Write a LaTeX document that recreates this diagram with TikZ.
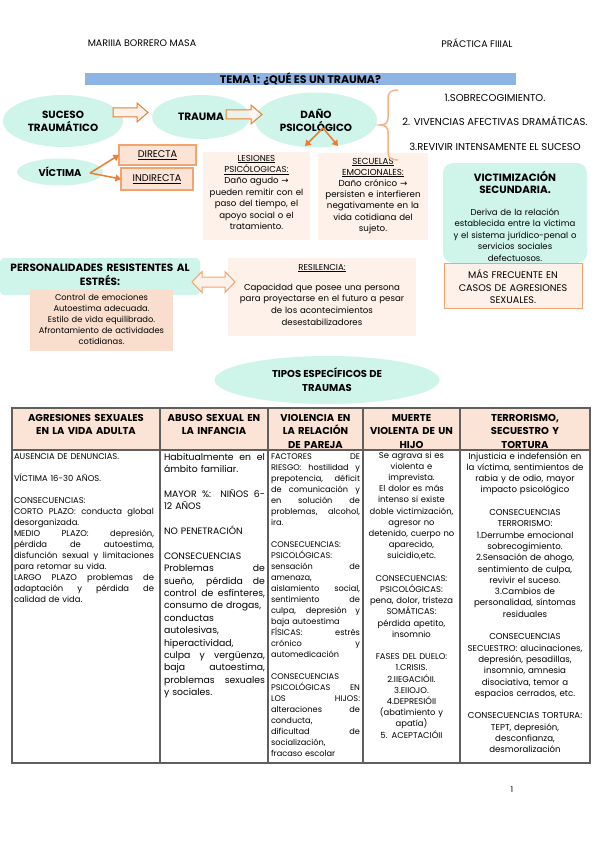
\documentclass[tikz,border=0pt]{standalone}
\usepackage{fontspec}
\setmainfont{Poppins}
\newfontfamily\symf{DejaVu Sans}
\usetikzlibrary{shapes.geometric,arrows.meta}
\definecolor{mint}{RGB}{207,245,234}
\definecolor{peach}{RGB}{251,228,214}
\definecolor{peachb}{RGB}{249,222,205}
\definecolor{lpeach}{RGB}{253,241,234}
\definecolor{orb}{RGB}{243,164,110}
\definecolor{ora}{RGB}{237,125,49}
\definecolor{bracecol}{RGB}{246,180,135}
\definecolor{barcol}{RGB}{142,180,227}
\definecolor{tline}{RGB}{95,95,95}
\newcommand\fs[2]{\fontsize{#1}{#2}\selectfont}
\newcommand\J[1]{{\spaceskip=0pt\xspaceskip=0pt\relax\makebox[\hsize][s]{#1}}}
\newcommand\rarr{{\symf →}}
\begin{document}
\begin{tikzpicture}[x=1pt,y=-1pt,
  every node/.style={inner sep=0pt,outer sep=0pt},
  ell/.style={ellipse,fill=mint,align=center,font=\bfseries\fs{10.4}{13}},
  obox/.style={rectangle,fill=peach,draw=orb,line width=1.2pt},
  lbox/.style={rectangle,fill=lpeach},
  txt/.style={anchor=base,align=center,font=\fs{8.5}{11}},
  hdr/.style={anchor=base,align=center,font=\bfseries\fs{10}{13.5}},
  cell/.style={anchor=base west,align=left,font=\fs{8.4}{11}},
  ccell/.style={anchor=base,align=center,font=\fs{8.4}{11}},
  conn/.style={draw=ora,line width=1.5pt,-{Triangle[length=5.5pt,width=7pt]}},
  barrow/.style={draw=ora,line width=1pt,fill=lpeach},
  bracestyle/.style={draw=bracecol,line width=1.5pt},
  tl/.style={draw=tline,line width=1.1pt}]
\useasboundingbox (0,0) rectangle (599,848);
\fill[white] (0,0) rectangle (599,848);

% header
\node[font=\fs{9.5}{10}] (autor) at (142,43) {MARIIIA BORRERO MASA};
\node[font=\fs{9.5}{10}] (practica) at (477,43) {PRÁCTICA FIIIAL};
\node[fill=barcol,minimum width=431,minimum height=12,font=\bfseries\fs{11}{11}] (tema) at (300.5,79) {TEMA 1: ¿QUÉ ES UN TRAUMA?};

% top chain
\node[ell,minimum width=120,minimum height=52] (suceso) at (63,121) {SUCESO\\TRAUMÁTICO};
\node[ell,minimum width=98,minimum height=44,font=\bfseries\fs{10.6}{13}] (trauma) at (201,117) {TRAUMA};
\node[ell,minimum width=122,minimum height=55] (dano) at (316,120) {DAÑO\\PSICOLÓGICO};
\draw[barrow] (113,108) -- (137,108) -- (137,103) -- (148,112.5) -- (137,122) -- (137,117) -- (113,117) -- cycle;
\draw[barrow,fill opacity=0.6] (226,110) -- (251,110) -- (251,105) -- (262,114.5) -- (251,124) -- (251,119) -- (226,119) -- cycle;

\node[txt,font=\fs{10}{10}] (l1) at (495,101.5) {1.SOBRECOGIMIENTO.};
\node[txt,font=\fs{10}{10}] (l2) at (495,125.5) {2. VIVENCIAS AFECTIVAS DRAMÁTICAS.};
\node[txt,font=\fs{10}{10}] (l3) at (495,150.5) {3.REVIVIR INTENSAMENTE EL SUCESO};

% victima
\node[ell,minimum width=86,minimum height=27,font=\bfseries\fs{9.9}{11}] (victima) at (60,172) {VÍCTIMA};
\node[obox,minimum width=77,minimum height=20,font=\fs{9.7}{10}] (directa) at (157.5,155) {\underline{DIRECTA}};
\node[obox,minimum width=72,minimum height=22,font=\fs{9.7}{10}] (indirecta) at (157,179) {\underline{INDIRECTA}};
\coordinate (vo) at (90,173);
\draw[conn] (vo) -- (directa.west);
\draw[conn] (vo) -- (indirecta.west);

% lesiones / secuelas
\node[lbox,minimum width=107,minimum height=88] (lesiones) at (256.5,196) {};
\node[txt,text width=105,font=\fs{8.6}{11.4}] (lestxt) at (256.5,161) {\underline{LESIONES}\\\underline{PSICÓLOGICAS:}\\Daño agudo \rarr\\pueden remitir con el\\paso del tiempo, el\\apoyo social o el\\tratamiento.};
\node[lbox,minimum width=110,minimum height=87] (secuelas) at (373,196.5) {};
\node[txt,text width=108,font=\fs{8.7}{11.2}] (sectxt) at (373,164) {\underline{SECUELAS}\\\underline{EMOCIONALES:}\\Daño crónico \rarr\\persisten e interfieren\\negativamente en la\\vida cotidiana del\\sujeto.};
\coordinate (do) at (323,128);
\coordinate (dl) at (305,146);
\coordinate (ds) at (338,146);
\draw[conn] (do) -- (dl);
\draw[conn] (do) -- (ds);
\draw[bracestyle] (398,90) .. controls (391,90) and (388,92) .. (388,99) -- (388,118) .. controls (388,123) and (385,125) .. (380,125) .. controls (385,125) and (388,127) .. (388,132) -- (388,152) .. controls (388,158) and (391,160) .. (398,160);

% victimizacion secundaria
\node[rectangle,rounded corners=10pt,fill=mint,minimum width=144,minimum height=100] (vs) at (515,213) {};
\node[txt,text width=140,font=\bfseries\fs{10.5}{12}] (vstitle) at (515,181) {VICTIMIZACIÓN\\SECUNDARIA.};
\node[txt,text width=140,font=\fs{8.5}{11.5}] (vsbody) at (515,215) {Deriva de la relación\\establecida entre la víctima\\y el sistema jurídico-penal o\\servicios sociales\\defectuosos.};
\node[rectangle,fill=lpeach,draw=orb,line width=0.9pt,minimum width=138,minimum height=45] (mf) at (513,285.5) {};
\node[txt,text width=136,font=\fs{9.6}{12.5}] (mftxt) at (513,278.5) {MÁS FRECUENTE EN\\CASOS DE AGRESIONES\\SEXUALES.};

% personalidades / resilencia
\node[rectangle,rounded corners=4pt,fill=mint,minimum width=200,minimum height=37] (pers) at (100,276.5) {};
\node[txt,text width=198,font=\bfseries\fs{10.5}{14}] (perstxt) at (100,271) {PERSONALIDADES RESISTENTES AL\\ESTRÉS:};
\node[rectangle,fill=peachb,minimum width=143,minimum height=61] (persl) at (101.5,320.5) {};
\node[txt,text width=141,font=\fs{8.3}{11.2}] (persltxt) at (101.5,300) {Control de emociones\\Autoestima adecuada.\\Estilo de vida equilibrado.\\Afrontamiento de actividades\\cotidianas.};
\node[lbox,minimum width=188,minimum height=78] (res) at (322,297) {};
\node[txt,font=\fs{8.6}{10}] (restitle) at (322,270) {\underline{RESILENCIA:}};
\node[txt,text width=186,font=\fs{8.6}{11.7}] (resbody) at (322,290) {Capacidad que posee una persona\\para proyectarse en el futuro a pesar\\de los acontecimientos\\desestabilizadores};
\draw[draw=orb,line width=1pt,fill=lpeach] (192,282) -- (202,271.5) -- (202,277) -- (225,277) -- (225,271.5) -- (235,282) -- (225,292.5) -- (225,287) -- (202,287) -- (202,292.5) -- cycle;

% tipos
\node[ell,minimum width=225,minimum height=48,font=\bfseries\fs{10}{14}] (tipos) at (327,380) {TIPOS ESPECÍFICOS DE\\TRAUMAS};

% table
\fill[peach] (12,408) rectangle (590,450);
\draw[tl] (12,408) rectangle (590,763);
\draw[tl] (12,450) -- (590,450);
\foreach \x in {160,268,363,460} \draw[tl] (\x,408) -- (\x,763);

\node[hdr,text width=146] (h1) at (86,421) {AGRESIONES SEXUALES\\EN LA VIDA ADULTA};
\node[hdr,text width=106] (h2) at (214,421) {ABUSO SEXUAL EN\\LA INFANCIA};
\node[hdr,text width=93] (h3) at (315.5,421) {VIOLENCIA EN\\LA RELACIÓN\\DE PAREJA};
\node[hdr,text width=95] (h4) at (411.5,421) {MUERTE\\VIOLENTA DE UN\\HIJO};
\node[hdr,text width=128] (h5) at (525,421) {TERRORISMO,\\SECUESTRO Y\\TORTURA};

\node[cell,text width=140] (c1) at (14,459) {AUSENCIA DE DENUNCIAS.\\[11pt]
VÍCTIMA 16-30 AÑOS.\\[11pt]
CONSECUENCIAS:\\
\J{CORTO PLAZO: conducta global}\\
desorganizada.\\
\J{MEDIO PLAZO: depresión,}\\
\J{pérdida de autoestima,}\\
\J{disfunción sexual y limitaciones}\\
para retomar su vida.\\
\J{LARGO PLAZO problemas de}\\
\J{adaptación y pérdida de}\\
calidad de vida.};

\node[cell,text width=101,font=\fs{9.3}{12.4}] (c2) at (164,460) {\J{Habitualmente en el}\\
ámbito familiar.\\[12.4pt]
\J{MAYOR \%: NIÑOS 6-}\\
12 AÑOS\\[12.4pt]
NO PENETRACIÓN\\[12.4pt]
CONSECUENCIAS\\
\J{Problemas de}\\
\J{sueño, pérdida de}\\
\J{control de esfínteres,}\\
consumo de drogas,\\
conductas\\
autolesivas,\\
hiperactividad,\\
\J{culpa y vergüenza,}\\
\J{baja autoestima,}\\
\J{problemas sexuales}\\
y sociales.};

\node[cell,text width=89,font=\fs{8.2}{11}] (c3) at (271,459) {\J{FACTORES DE}\\
\J{RIESGO: hostilidad y}\\
\J{prepotencia, déficit}\\
\J{de comunicación y}\\
\J{en solución de}\\
\J{problemas, alcohol,}\\
ira.\\[11pt]
CONSECUENCIAS:\\
PSICOLÓGICAS:\\
\J{sensación de}\\
amenaza,\\
\J{aislamiento social,}\\
\J{sentimiento de}\\
\J{culpa, depresión y}\\
baja autoestima\\
\J{FÍSICAS: estrés}\\
\J{crónico y}\\
automedicación\\[11pt]
CONSECUENCIAS\\
\J{PSICOLÓGICAS EN}\\
\J{LOS HIJOS:}\\
\J{alteraciones de}\\
conducta,\\
\J{dificultad de}\\
socialización,\\
fracaso escolar};

\node[ccell,text width=95,font=\fs{8.4}{11.2}] (c4) at (411.5,458) {Se agrava si es\\violenta e\\imprevista.\\El dolor es más\\intenso si existe\\doble victimización,\\agresor no\\detenido, cuerpo no\\aparecido,\\suicidio,etc.\\[11.2pt]
CONSECUENCIAS:\\PSICOLÓGICAS:\\pena, dolor, tristeza\\SOMÁTICAS:\\pérdida apetito,\\insomnio\\[11.2pt]
FASES DEL DUELO:\\1.CRISIS.\\2.IIEGACIÓII.\\3.EIIOJO.\\4.DEPRESIÓII\\(abatimiento y\\apatía)\\5. ACEPTACIÓII};

\node[ccell,text width=126,font=\fs{8.6}{11.3}] (c5) at (525,459) {Injusticia e indefensión en\\la víctima, sentimientos de\\rabia y de odio, mayor\\impacto psicológico\\[11.3pt]
CONSECUENCIAS\\TERRORISMO:\\1.Derrumbe emocional\\sobrecogimiento.\\2.Sensación de ahogo,\\sentimiento de culpa,\\revivir el suceso.\\3.Cambios de\\personalidad, síntomas\\residuales\\[11.3pt]
CONSECUENCIAS\\SECUESTRO: alucinaciones,\\depresión, pesadillas,\\insomnio, amnesia\\disociativa, temor a\\espacios cerrados, etc.\\[11.3pt]
CONSECUENCIAS TORTURA:\\TEPT, depresión,\\desconfianza,\\desmoralización};

\node[font=\fs{8}{9}] (pag) at (512,790) {1};
\end{tikzpicture}
\end{document}
